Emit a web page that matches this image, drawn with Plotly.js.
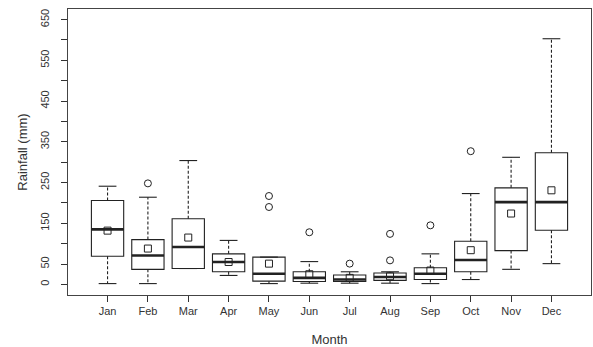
<!DOCTYPE html>
<html>
<head>
<meta charset="utf-8">
<script src="https://cdn.plot.ly/plotly-3.0.1.min.js"></script>
<style>
html,body{margin:0;padding:0;background:#fff;}
#chart{width:593px;height:347px;}
</style>
</head>
<body>
<div id="chart"></div>
<script>
// ---- data ----
var months = ['Jan','Feb','Mar','Apr','May','Jun','Jul','Aug','Sep','Oct','Nov','Dec'];
var q1Values     = [69, 37, 39, 31,  8,  7,  7, 10, 12,  31,  83, 133];
var medianValues = [135, 71, 92, 55, 26, 16, 12, 18, 26,  60, 202, 202];
var q3Values     = [206, 110, 161, 75, 67, 31, 23, 28, 41, 106, 237, 323];
var lowerWhisker = [2, 2, 39, 22, 2, 3, 3, 3, 2, 12, 37, 51];
var upperWhisker = [241, 214, 304, 108, 67, 56, 31, 31, 75, 223, 312, 603];
var meanValues   = [132, 88, 115, 55, 51, 25, 16, 20, 34, 84, 174, 231];
var outlierMonth = ['Feb','May','May','Jun','Jul','Aug','Aug','Sep','Oct'];
var outlierValue = [248, 217, 190, 128, 51, 124, 59, 145, 327];
var yTickValues  = [0, 50, 100, 150, 200, 250, 300, 350, 400, 450, 500, 550, 600, 650];
var yTickLabels  = ['0','50','','150','','250','','350','','450','','550','','650'];

// ---- styling constants ----
var ink = '#222';
var boxWidth = 0.8;
var capHalf = 0.22;
var medHalf = 0.4;

var pos = months.map(function(m, i){ return i + 1; });
var posOf = {};
months.forEach(function(m, i){ posOf[m] = i + 1; });

var traces = [];

// boxes (quartiles only, whiskers drawn separately as dashed lines)
traces.push({
  type: 'box',
  x: pos,
  q1: q1Values,
  median: medianValues,
  q3: q3Values,
  lowerfence: q1Values,
  upperfence: q3Values,
  width: boxWidth,
  whiskerwidth: 0,
  fillcolor: 'rgba(255,255,255,0)',
  line: {color: ink, width: 1.1},
  boxpoints: false,
  hoverinfo: 'skip',
  showlegend: false
});

// dashed whiskers
var wx = [], wy = [];
pos.forEach(function(p, i){
  wx.push(p, p, null, p, p, null);
  wy.push(q3Values[i], upperWhisker[i], null, q1Values[i], lowerWhisker[i], null);
});
traces.push({type:'scatter', mode:'lines', x: wx, y: wy,
  line:{color: ink, width: 1.1, dash: '3px,2px'}, hoverinfo:'skip', showlegend:false});

// whisker caps
var cx = [], cy = [];
pos.forEach(function(p, i){
  cx.push(p - capHalf, p + capHalf, null, p - capHalf, p + capHalf, null);
  cy.push(upperWhisker[i], upperWhisker[i], null, lowerWhisker[i], lowerWhisker[i], null);
});
traces.push({type:'scatter', mode:'lines', x: cx, y: cy,
  line:{color: ink, width: 1.1}, hoverinfo:'skip', showlegend:false});

// thick medians
var mx = [], my = [];
pos.forEach(function(p, i){
  mx.push(p - medHalf, p + medHalf, null);
  my.push(medianValues[i], medianValues[i], null);
});
traces.push({type:'scatter', mode:'lines', x: mx, y: my,
  line:{color: ink, width: 2.6}, hoverinfo:'skip', showlegend:false});

// means
traces.push({type:'scatter', mode:'markers', x: pos, y: meanValues,
  marker:{symbol:'square-open', size:7, color: ink, line:{width:1}},
  hoverinfo:'skip', showlegend:false});

// outliers
traces.push({type:'scatter', mode:'markers',
  x: outlierMonth.map(function(m){ return posOf[m]; }), y: outlierValue,
  marker:{symbol:'circle-open', size:7, color: ink, line:{width:1}},
  hoverinfo:'skip', showlegend:false});

var layout = {
  width: 593, height: 347,
  margin: {l: 68, r: 2, t: 9, b: 52, pad: 0},
  paper_bgcolor: '#fff', plot_bgcolor: '#fff',
  font: {family: 'Liberation Sans, Arial, sans-serif', color: '#333', size: 11},
  showlegend: false,
  xaxis: {
    range: [0.02, 12.98],
    tickmode: 'array', tickvals: pos, ticktext: months,
    ticks: 'outside', ticklen: 6, tickcolor: '#333', tickwidth: 1,
    showgrid: false, zeroline: false,
    showline: true, linecolor: '#444', linewidth: 1, mirror: true,
    tickfont: {size: 11, color: '#333'},
    title: {text: 'Month', font: {size: 13, color: '#333'}, standoff: 19}
  },
  yaxis: {
    range: [-26, 676],
    tickmode: 'array', tickvals: yTickValues, ticktext: yTickLabels,
    tickangle: -90,
    ticks: 'outside', ticklen: 6, tickcolor: '#333', tickwidth: 1,
    ticklabelstandoff: 8,
    showgrid: false, zeroline: false,
    showline: true, linecolor: '#444', linewidth: 1, mirror: true,
    tickfont: {size: 11, color: '#333'},
    title: {text: 'Rainfall (mm)', font: {size: 13, color: '#333'}, standoff: 8}
  }
};

Plotly.newPlot('chart', traces, layout, {displayModeBar: false, staticPlot: true});
</script>
</body>
</html>
